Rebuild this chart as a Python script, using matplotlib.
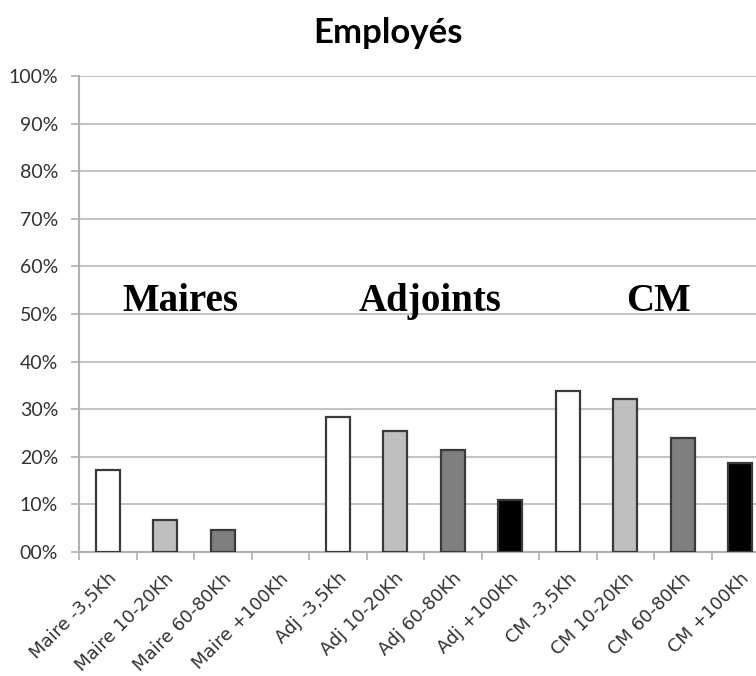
import numpy as np
import matplotlib.pyplot as plt
import matplotlib
from matplotlib.transforms import ScaledTranslation

matplotlib.rcParams.update({'font.family': ['Lato', 'DejaVu Sans']})

labels = ['Maire -3,5Kh', 'Maire 10-20Kh', 'Maire 60-80Kh', 'Maire +100Kh',
          'Adj -3,5Kh', 'Adj 10-20Kh', 'Adj 60-80Kh', 'Adj +100Kh',
          'CM -3,5Kh', 'CM 10-20Kh', 'CM 60-80Kh', 'CM +100Kh']
values = [17.3, 6.8, 4.7, 0.0,
          28.4, 25.5, 21.5, 10.9,
          33.9, 32.2, 23.9, 18.6]
groups = ['Maires', 'Adjoints', 'CM']
group_pos = [1.27, 5.6, 9.58]
ytick_vals = np.arange(0, 101, 10)
ytick_labels = ['00%'] + ['%d%%' % v for v in ytick_vals[1:]]

fills = ['white', '#bfbfbf', '#7f7f7f', 'black'] * 3

fig = plt.figure(figsize=(7.56, 6.76), dpi=100)
ax = fig.add_axes([0.1045, 0.1834, 0.9127, 0.7041])

x = np.arange(len(values))
edge_w = [1.6 if v > 0 else 0 for v in values]
ax.bar(x, values, width=0.42, color=fills, edgecolor='#3a3a3a', linewidth=edge_w, zorder=3)

ax.set_xlim(-0.5, len(values) - 0.5)
ax.set_ylim(0, 100)
ax.set_yticks(ytick_vals)
ax.set_yticklabels(ytick_labels, fontsize=14, color='#333333')
ax.yaxis.grid(True, color='#c4c4c4', lw=1.5, zorder=0)
ax.tick_params(axis='y', length=6, color='#b0b0b0', width=1.2, pad=9)

ax.set_xticks(x)
ax.set_xticklabels(labels, rotation=45, ha='right', va='center', rotation_mode='anchor',
                   fontsize=13, color='#333333', family='DejaVu Sans')
ax.tick_params(axis='x', length=0, pad=17)
shift = ScaledTranslation(6 / 100, 0, fig.dpi_scale_trans)
for t in ax.get_xticklabels():
    t.set_transform(t.get_transform() + shift)
ax.set_xticks(np.arange(-0.5, len(values), 1), minor=True)
ax.tick_params(axis='x', which='minor', length=6, color='#b0b0b0', width=1.2)

for s in ['top', 'right']:
    ax.spines[s].set_visible(False)
for s in ['left', 'bottom']:
    ax.spines[s].set_color('#b0b0b0')
    ax.spines[s].set_linewidth(1.5)

for g, p in zip(groups, group_pos):
    ax.text(p, 52.6, g, fontsize=28, fontweight='bold', family='Liberation Serif',
            ha='center', va='center', zorder=4)

fig.text(0.513, 0.951, 'Employés', fontsize=25, fontweight='bold', ha='center', va='center')

plt.savefig('out.png', dpi=100)
